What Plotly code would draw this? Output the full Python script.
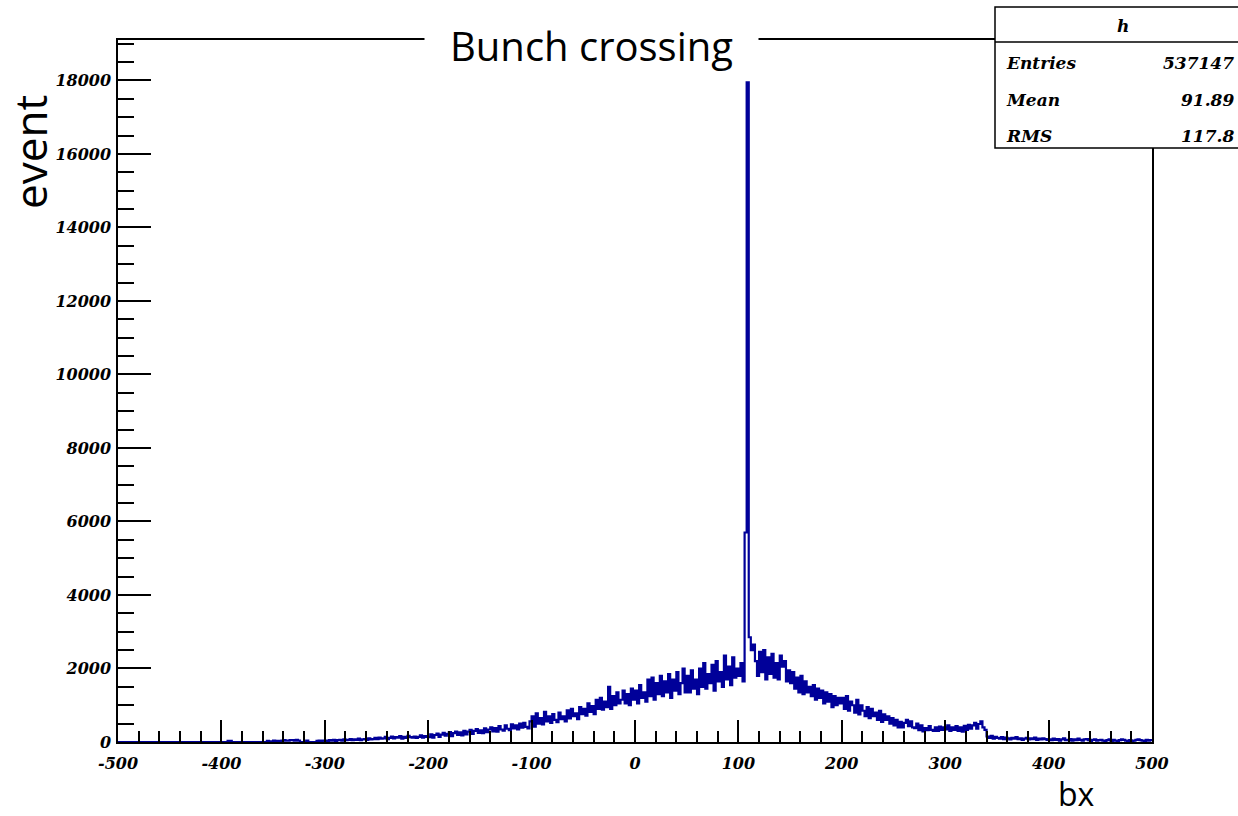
import plotly.graph_objects as go

# ---- data (ROOT histogram "h", bx from -500 to 500, bins of width 2) ----
bin_low = -500
bin_width = 2
counts = (
    [0] * 25 +
    [0] * 25 +
    [0, 0, 0, 30, 30, 0, 0, 0, 0, 0, 0, 0, 0, 0, 0, 0, 0, 0, 0, 0, 0, 0, 30, 20, 0] +
    [40, 30, 0, 30, 40, 50, 40, 40, 50, 50, 40, 60, 40, 0, 0, 0, 40, 0, 0, 0, 0, 30, 40, 30, 40] +
    [40, 30, 50, 40, 60, 30, 50, 60, 40, 70, 50, 60, 80, 50, 70, 60, 90, 50, 70, 80, 60, 100, 70, 80, 110] +
    [80, 120, 90, 100, 140, 80, 110, 150, 100, 130, 120, 160, 90, 140, 110, 170, 130, 120, 150, 110, 140, 180, 120, 160, 140] +
    [130, 210, 120, 190, 230, 140, 200, 250, 170, 220, 270, 160, 240, 280, 190, 260, 180, 300, 210, 280, 330, 220, 300, 350, 250] +
    [320, 240, 370, 270, 340, 400, 290, 380, 280, 430, 340, 310, 450, 360, 320, 480, 370, 450, 340, 500, 390, 520, 410, 370, 560] +
    [700, 420, 780, 500, 650, 480, 820, 560, 700, 520, 760, 600, 540, 800, 620, 700, 560, 860, 640, 900, 700, 780, 620, 950, 760] +
    [900, 720, 1050, 820, 980, 760, 1150, 900, 1200, 880, 1100, 950, 1500, 900, 1250, 1000, 1350, 1050, 1150, 1400, 1050, 1300, 1000, 1450, 1150] +
    [1400, 1050, 1550, 1200, 1350, 1100, 1700, 1250, 1750, 1150, 1600, 1300, 1800, 1250, 1650, 1350, 1850, 1200, 1700, 1400, 1900, 1300, 1600, 2000, 1350] +
    [1800, 1350, 1950, 1450, 1700, 1300, 2000, 1500, 2150, 1450, 1850, 1600, 2100, 1400, 2200, 1650, 1900, 1500, 2350, 1700, 2050, 1550, 2300, 1750, 2000] +
    [1800, 2150, 1650, 5700, 17950, 2850, 2500, 2650, 2200, 1800, 2450, 1900, 2500, 1700, 2300, 1850, 2400, 1750, 2150, 1700, 2350, 2050, 2200, 1650, 1950] +
    [1600, 1900, 1450, 1750, 1350, 1800, 1300, 1650, 1350, 1500, 1250, 1550, 1150, 1450, 1200, 1400, 1050, 1350, 1100, 1300, 950, 1250, 1000, 1200, 1050] +
    [1200, 900, 1250, 850, 1100, 1000, 800, 1150, 750, 1000, 850, 700, 950, 650, 900, 700, 800, 600, 850, 550, 750, 600, 700, 500, 650] +
    [450, 600, 400, 550, 400, 520, 600, 430, 560, 400, 380, 500, 320, 450, 290, 380, 320, 430, 330, 300, 400, 300, 420, 330, 400] +
    [340, 450, 300, 400, 330, 430, 300, 400, 280, 440, 330, 470, 360, 450, 520, 360, 490, 560, 400, 330, 150, 110, 170, 90, 140] +
    [110, 90, 130, 80, 120, 100, 70, 110, 90, 130, 80, 100, 60, 90, 110, 70, 100, 80, 120, 60, 90, 70, 100, 80, 60] +
    [70, 50, 90, 60, 80, 40, 70, 100, 50, 60, 80, 40, 70, 50, 90, 60, 40, 70, 80, 50, 30, 60, 70, 40, 50] +
    [60, 40, 0, 50, 70, 30, 60, 40, 0, 50, 70, 60, 40, 30, 50, 0, 40, 60, 70, 50, 40, 30, 60, 40, 50]
)
x_ticks = [-500, -400, -300, -200, -100, 0, 100, 200, 300, 400, 500]
y_ticks = [0, 2000, 4000, 6000, 8000, 10000, 12000, 14000, 16000, 18000]
stats_name = "h"
stats_labels = ["Entries", "Mean", "RMS"]
stats_values = ["537147", "91.89", "117.8"]
title_text = "Bunch crossing"
x_title = "bx"
y_title = "event"

# ---- geometry ----
W, H = 1238, 816
L, R, T, B = 118, 86, 40, 74
PW, PH = W - L - R, H - T - B


def px(xp):
    return (xp - L) / PW


def py(yp):
    return (H - B - yp) / PH


edges = [bin_low + bin_width * i for i in range(len(counts) + 1)]
ys = counts + [counts[-1]]

fig = go.Figure()
fig.add_trace(go.Scatter(x=edges, y=ys, mode="lines",
                         line=dict(color="#000099", width=2.2, shape="hv"),
                         hoverinfo="skip"))

tick_font = dict(family="DejaVu Serif", size=16, color="black",
                 weight="bold", style="italic")

fig.update_layout(
    width=W, height=H,
    margin=dict(l=L, r=R, t=T, b=B),
    paper_bgcolor="white", plot_bgcolor="white",
    showlegend=False,
    xaxis=dict(range=[-500, 500], tickmode="array", tickvals=x_ticks,
               ticktext=[str(v) for v in x_ticks],
               ticks="inside", ticklen=22, tickwidth=1.5, tickcolor="black",
               showline=True, linecolor="black", linewidth=1.5, mirror=True,
               showgrid=False, zeroline=False, tickfont=tick_font,
               ticklabelstandoff=6,
               minor=dict(tick0=-500, dtick=20, ticks="inside", ticklen=11,
                          tickwidth=1.5, tickcolor="black", showgrid=False)),
    yaxis=dict(range=[0, 19100], tickmode="array", tickvals=y_ticks,
               ticktext=[str(v) for v in y_ticks],
               ticks="inside", ticklen=33, tickwidth=1.5, tickcolor="black",
               showline=True, linecolor="black", linewidth=1.5, mirror=True,
               showgrid=False, zeroline=False, tickfont=tick_font,
               ticklabelstandoff=2,
               minor=dict(tick0=0, dtick=500, ticks="inside", ticklen=16,
                          tickwidth=1.5, tickcolor="black", showgrid=False)),
)

# stats box
fig.add_shape(type="rect", xref="paper", yref="paper",
              x0=px(995), x1=px(1260), y0=py(148), y1=py(7),
              line=dict(color="black", width=1.5), fillcolor="white", layer="above")
fig.add_shape(type="line", xref="paper", yref="paper",
              x0=px(995), x1=px(1260), y0=py(42), y1=py(42),
              line=dict(color="black", width=1.5), layer="above")

stats_font = dict(family="DejaVu Serif", size=17, color="black",
                  weight="bold", style="italic")
fig.add_annotation(text=stats_name, xref="paper", yref="paper",
                   x=px(1123), y=py(26), showarrow=False, font=stats_font,
                   xanchor="center", yanchor="middle")
for lab, val, yp in zip(stats_labels, stats_values, [63, 100, 136]):
    fig.add_annotation(text=lab, xref="paper", yref="paper", x=px(1004), y=py(yp),
                       showarrow=False, font=stats_font, xanchor="left", yanchor="middle")
    fig.add_annotation(text=val, xref="paper", yref="paper", x=px(1236), y=py(yp),
                       showarrow=False, font=stats_font, xanchor="right", yanchor="middle")

# title sitting on the top frame line
fig.add_annotation(text=title_text, xref="paper", yref="paper",
                   x=px(591), y=py(46), showarrow=False,
                   font=dict(family="Open Sans", size=40, color="black"),
                   bgcolor="white", xanchor="center", yanchor="middle",
                   borderpad=0, width=333)

# axis titles
fig.add_annotation(text=y_title, xref="paper", yref="paper",
                   x=px(30), y=py(152), showarrow=False, textangle=-90,
                   font=dict(family="Open Sans", size=44, color="black"),
                   xanchor="center", yanchor="middle")
fig.add_annotation(text=x_title, xref="paper", yref="paper",
                   x=px(1076), y=py(793), showarrow=False,
                   font=dict(family="Open Sans", size=32, color="black"),
                   xanchor="center", yanchor="middle")

fig.write_html("out.html", config={"displayModeBar": False},
               post_script="document.body.style.margin='0';document.body.style.overflow='hidden';")
